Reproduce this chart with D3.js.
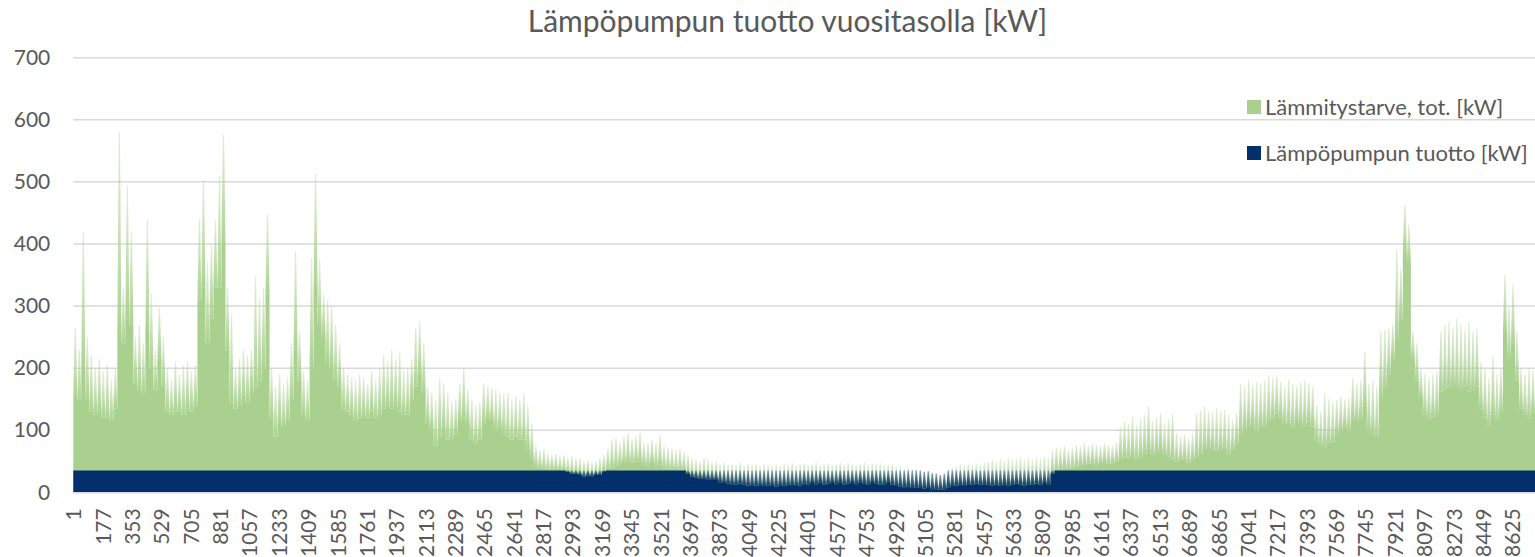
<!DOCTYPE html>
<html lang="fi">
<head>
<meta charset="utf-8">
<script src="https://cdn.jsdelivr.net/npm/d3@7"></script>
<style>
  body { margin: 0; background: #ffffff; }
  svg { display: block; }
  text { font-family: Lato, "Open Sans", "Noto Sans", sans-serif; fill: #595959; }
</style>
</head>
<body>
<svg id="chart" width="1535" height="557"></svg>
<script>
// Hourly heating demand and heat-pump output over one year, summarised per day:
// "Base" = level the hourly values stay above for most of the day, "Peak" = highest hour.
const chartTitle = "Lämpöpumpun tuotto vuositasolla [kW]";
const seriesNames = ["Lämmitystarve, tot. [kW]", "Lämpöpumpun tuotto [kW]"];
const hoursInYear = 8760;
const hoursPerDay = 24;
const yTicks = [0, 100, 200, 300, 400, 500, 600, 700];
const xTickLabels = [1, 177, 353, 529, 705, 881, 1057, 1233, 1409, 1585, 1761, 1937, 2113, 2289, 2465,
  2641, 2817, 2993, 3169, 3345, 3521, 3697, 3873, 4049, 4225, 4401, 4577, 4753, 4929, 5105, 5281,
  5457, 5633, 5809, 5985, 6161, 6337, 6513, 6689, 6865, 7041, 7217, 7393, 7569, 7745, 7921, 8097,
  8273, 8449, 8625];

// Heating demand, daily peak hour [kW]
const demandPeak = [
  265, 230, 418, 250, 221, 200, 215, 195, 205, 180,
  200, 581, 330, 493, 420, 250, 270, 240, 439, 320,
  230, 297, 250, 200, 180, 210, 190, 205, 210, 195,
  205, 440, 503, 370, 400, 439, 510, 576, 330, 286,
  200, 215, 230, 220, 230, 348, 313, 330, 447, 200,
  170, 190, 175, 185, 240, 388, 260, 195, 180, 377,
  514, 374, 320, 310, 300, 270, 240, 200, 190, 185,
  180, 190, 185, 175, 195, 180, 200, 221, 210, 230,
  215, 225, 195, 200, 215, 264, 275, 240, 170, 160,
  150, 184, 175, 160, 146, 150, 175, 200, 165, 150,
  140, 145, 176, 170, 168, 165, 160, 160, 160, 150,
  155, 150, 160, 140, 110, 75, 68, 70, 62, 60,
  62, 58, 60, 55, 58, 55, 55, 50, 52, 48,
  50, 55, 60, 70, 85, 87, 80, 90, 95, 85,
  90, 96, 79, 80, 85, 80, 92, 74, 72, 70,
  68, 70, 65, 60, 55, 52, 50, 55, 52, 48,
  50, 45, 48, 44, 46, 44, 48, 42, 45, 44,
  46, 42, 45, 44, 43, 45, 42, 46, 44, 47,
  43, 45, 47, 44, 46, 48, 43, 45, 47, 44,
  46, 48, 44, 47, 45, 43, 46, 48, 44, 46,
  45, 47, 43, 44, 46, 40, 42, 38, 40, 36,
  37, 35, 33, 34, 31, 30, 28, 30, 36, 40,
  42, 45, 43, 46, 44, 47, 45, 48, 50, 52,
  49, 53, 50, 55, 52, 54, 57, 52, 55, 53,
  56, 54, 57, 55, 68, 72, 70, 74, 68, 72,
  76, 74, 79, 75, 78, 76, 74, 79, 77, 75,
  80, 106, 115, 110, 122, 108, 118, 125, 138, 115,
  120, 127, 110, 118, 127, 95, 90, 92, 88, 95,
  127, 132, 138, 130, 128, 135, 130, 133, 125, 116,
  128, 175, 170, 181, 172, 178, 175, 180, 189, 185,
  189, 178, 170, 181, 175, 172, 178, 180, 176, 170,
  140, 130, 160, 150, 145, 149, 154, 150, 152, 184,
  175, 180, 227, 175, 180, 170, 259, 262, 265, 270,
  391, 360, 463, 430, 259, 240, 200, 190, 185, 190,
  195, 260, 270, 275, 265, 280, 270, 262, 275, 259,
  265, 210, 200, 185, 220, 190, 200, 350, 300, 334,
  260, 200, 190, 200, 195
];

// Heating demand, daily base level [kW]
const demandBase = [
  152, 150, 200, 150, 130, 125, 130, 120, 120, 115,
  135, 260, 240, 280, 270, 175, 165, 160, 260, 200,
  165, 215, 170, 130, 125, 130, 130, 125, 135, 130,
  140, 310, 330, 240, 280, 330, 330, 400, 230, 145,
  135, 140, 150, 145, 160, 170, 180, 200, 320, 120,
  90, 110, 105, 115, 150, 230, 180, 125, 115, 200,
  329, 270, 250, 210, 200, 180, 170, 135, 130, 125,
  115, 120, 125, 120, 130, 120, 125, 135, 140, 135,
  140, 130, 125, 125, 150, 170, 190, 160, 110, 100,
  75, 90, 100, 85, 87, 95, 115, 120, 110, 85,
  80, 85, 110, 120, 115, 100, 105, 95, 90, 85,
  90, 85, 85, 70, 55, 42, 40, 38, 36, 38,
  36, 36, 35, 33, 30, 30, 28, 25, 27, 26,
  28, 28, 34, 38, 40, 42, 45, 47, 50, 48,
  50, 50, 45, 42, 47, 42, 45, 40, 38, 38,
  36, 37, 36, 30, 25, 24, 22, 22, 21, 20,
  20, 16, 15, 14, 13, 12, 14, 12, 11, 10,
  11, 10, 10, 11, 10, 9, 10, 11, 10, 12,
  10, 11, 14, 12, 15, 13, 16, 12, 14, 15,
  13, 16, 12, 14, 15, 13, 16, 14, 12, 15,
  14, 12, 13, 15, 12, 10, 9, 8, 9, 7,
  8, 7, 6, 7, 5, 5, 4, 5, 8, 10,
  11, 12, 10, 13, 12, 14, 12, 13, 12, 11,
  12, 10, 13, 11, 12, 14, 12, 11, 13, 12,
  14, 12, 15, 13, 30, 36, 38, 40, 38, 40,
  42, 45, 44, 46, 48, 45, 47, 50, 46, 48,
  50, 55, 58, 56, 60, 54, 58, 62, 70, 60,
  65, 68, 62, 58, 55, 50, 52, 55, 48, 52,
  58, 62, 68, 74, 70, 66, 68, 72, 63, 70,
  79, 95, 100, 105, 111, 100, 108, 105, 116, 120,
  127, 120, 110, 112, 106, 116, 110, 108, 114, 106,
  84, 78, 74, 80, 82, 95, 100, 106, 100, 119,
  115, 120, 140, 100, 95, 90, 152, 170, 190, 216,
  248, 280, 388, 372, 216, 180, 152, 125, 119, 122,
  125, 162, 165, 170, 173, 168, 165, 170, 162, 165,
  170, 135, 120, 109, 125, 115, 130, 259, 216, 240,
  180, 135, 125, 119, 130
];

// Heat-pump output, daily peak hour [kW]
const pumpPeak = [
  35, 35, 35, 35, 35, 35, 35, 35, 35, 35,
  35, 35, 35, 35, 35, 35, 35, 35, 35, 35,
  35, 35, 35, 35, 35, 35, 35, 35, 35, 35,
  35, 35, 35, 35, 35, 35, 35, 35, 35, 35,
  35, 35, 35, 35, 35, 35, 35, 35, 35, 35,
  35, 35, 35, 35, 35, 35, 35, 35, 35, 35,
  35, 35, 35, 35, 35, 35, 35, 35, 35, 35,
  35, 35, 35, 35, 35, 35, 35, 35, 35, 35,
  35, 35, 35, 35, 35, 35, 35, 35, 35, 35,
  35, 35, 35, 35, 35, 35, 35, 35, 35, 35,
  35, 35, 35, 35, 35, 35, 35, 35, 35, 35,
  35, 35, 35, 35, 35, 35, 35, 35, 35, 35,
  35, 35, 35, 35, 35, 35, 35, 35, 35, 35,
  35, 35, 35, 35, 35, 35, 35, 35, 35, 35,
  35, 35, 35, 35, 35, 35, 35, 35, 35, 35,
  35, 35, 35, 35, 35, 35, 35, 35, 35, 35,
  35, 35, 35, 35, 35, 35, 35, 35, 35, 35,
  35, 35, 35, 35, 35, 35, 35, 35, 35, 35,
  35, 35, 35, 35, 35, 35, 35, 35, 35, 35,
  35, 35, 35, 35, 35, 35, 35, 35, 35, 35,
  35, 35, 35, 35, 35, 35, 35, 35, 35, 35,
  35, 35, 33, 34, 31, 30, 28, 30, 35, 35,
  35, 35, 35, 35, 35, 35, 35, 35, 35, 35,
  35, 35, 35, 35, 35, 35, 35, 35, 35, 35,
  35, 35, 35, 35, 35, 35, 35, 35, 35, 35,
  35, 35, 35, 35, 35, 35, 35, 35, 35, 35,
  35, 35, 35, 35, 35, 35, 35, 35, 35, 35,
  35, 35, 35, 35, 35, 35, 35, 35, 35, 35,
  35, 35, 35, 35, 35, 35, 35, 35, 35, 35,
  35, 35, 35, 35, 35, 35, 35, 35, 35, 35,
  35, 35, 35, 35, 35, 35, 35, 35, 35, 35,
  35, 35, 35, 35, 35, 35, 35, 35, 35, 35,
  35, 35, 35, 35, 35, 35, 35, 35, 35, 35,
  35, 35, 35, 35, 35, 35, 35, 35, 35, 35,
  35, 35, 35, 35, 35, 35, 35, 35, 35, 35,
  35, 35, 35, 35, 35, 35, 35, 35, 35, 35,
  35, 35, 35, 35, 35
];

// Heat-pump output, daily base level [kW]
const pumpBase = [
  35, 35, 35, 35, 35, 35, 35, 35, 35, 35,
  35, 35, 35, 35, 35, 35, 35, 35, 35, 35,
  35, 35, 35, 35, 35, 35, 35, 35, 35, 35,
  35, 35, 35, 35, 35, 35, 35, 35, 35, 35,
  35, 35, 35, 35, 35, 35, 35, 35, 35, 35,
  35, 35, 35, 35, 35, 35, 35, 35, 35, 35,
  35, 35, 35, 35, 35, 35, 35, 35, 35, 35,
  35, 35, 35, 35, 35, 35, 35, 35, 35, 35,
  35, 35, 35, 35, 35, 35, 35, 35, 35, 35,
  35, 35, 35, 35, 35, 35, 35, 35, 35, 35,
  35, 35, 35, 35, 35, 35, 35, 35, 35, 35,
  35, 35, 35, 35, 35, 35, 35, 35, 35, 35,
  35, 35, 35, 33, 30, 30, 28, 25, 27, 26,
  28, 28, 34, 35, 35, 35, 35, 35, 35, 35,
  35, 35, 35, 35, 35, 35, 35, 35, 35, 35,
  35, 35, 35, 30, 25, 24, 22, 22, 21, 20,
  20, 16, 15, 14, 13, 12, 14, 12, 11, 10,
  11, 10, 10, 11, 10, 9, 10, 11, 10, 12,
  10, 11, 14, 12, 15, 13, 16, 12, 14, 15,
  13, 16, 12, 14, 15, 13, 16, 14, 12, 15,
  14, 12, 13, 15, 12, 10, 9, 8, 9, 7,
  8, 7, 6, 7, 5, 5, 4, 5, 8, 10,
  11, 12, 10, 13, 12, 14, 12, 13, 12, 11,
  12, 10, 13, 11, 12, 14, 12, 11, 13, 12,
  14, 12, 15, 13, 30, 35, 35, 35, 35, 35,
  35, 35, 35, 35, 35, 35, 35, 35, 35, 35,
  35, 35, 35, 35, 35, 35, 35, 35, 35, 35,
  35, 35, 35, 35, 35, 35, 35, 35, 35, 35,
  35, 35, 35, 35, 35, 35, 35, 35, 35, 35,
  35, 35, 35, 35, 35, 35, 35, 35, 35, 35,
  35, 35, 35, 35, 35, 35, 35, 35, 35, 35,
  35, 35, 35, 35, 35, 35, 35, 35, 35, 35,
  35, 35, 35, 35, 35, 35, 35, 35, 35, 35,
  35, 35, 35, 35, 35, 35, 35, 35, 35, 35,
  35, 35, 35, 35, 35, 35, 35, 35, 35, 35,
  35, 35, 35, 35, 35, 35, 35, 35, 35, 35,
  35, 35, 35, 35, 35
];

const colors = { demand: "#a9d08e", pump: "#03306b", grid: "#d9d9d9" };

const svg = d3.select("#chart");
const plot = { left: 73.3, right: 1535, top: 57.7, bottom: 492.3 };

const x = d3.scaleLinear().domain([0, hoursInYear]).range([plot.left, plot.right]);
const y = d3.scaleLinear().domain([0, 700]).range([plot.bottom, plot.top]);

// vertical fades used for the spread between a day's base level and its peak hour
const defs = svg.append("defs");
function fade(id, color, opBottom, opTop) {
  const g = defs.append("linearGradient").attr("id", id)
    .attr("x1", 0).attr("y1", 1).attr("x2", 0).attr("y2", 0);
  g.append("stop").attr("offset", 0).attr("stop-color", color).attr("stop-opacity", opBottom);
  g.append("stop").attr("offset", 1).attr("stop-color", color).attr("stop-opacity", opTop);
}
fade("fadeDemand", colors.demand, 0.95, 0.35);
fade("fadePump", colors.pump, 0.9, 0.4);

// title
svg.append("text")
  .attr("x", 787.5).attr("y", 32)
  .attr("text-anchor", "middle")
  .style("font-size", "30px")
  .text(chartTitle);

// horizontal gridlines
svg.append("g").selectAll("line").data(yTicks.filter(t => t > 0)).join("line")
  .attr("x1", plot.left).attr("x2", plot.right)
  .attr("y1", d => y(d)).attr("y2", d => y(d))
  .attr("stroke", colors.grid).attr("stroke-width", 1.5);

// y axis labels
const yAxis = svg.append("g")
  .attr("transform", `translate(${plot.left},0)`)
  .call(d3.axisLeft(y).tickValues(yTicks).tickSize(0).tickPadding(23));
yAxis.select(".domain").remove();
yAxis.selectAll("text").style("font-size", "21px").attr("fill", "#595959");

// step-shaped daily series
function stepData(values) {
  const pts = values.map((v, i) => [i * hoursPerDay, v]);
  pts.push([values.length * hoursPerDay, values[values.length - 1]]);
  return pts;
}
const stepArea = d3.area()
  .x(d => x(d[0])).y0(y(0)).y1(d => y(d[1]))
  .curve(d3.curveStepAfter);

// a day's spread drawn as a spike: full day width at its base, narrowing to the peak hour
function spike(i, base, peak) {
  const x0 = x(i * hoursPerDay), x1 = x((i + 1) * hoursPerDay), xm = (x0 + x1) / 2;
  const p = d3.path();
  p.moveTo(x0, y(base[i]));
  p.lineTo(xm - 0.6, y(peak[i]));
  p.lineTo(xm + 0.6, y(peak[i]));
  p.lineTo(x1, y(base[i]));
  p.closePath();
  return p.toString();
}

const days = d3.range(demandPeak.length);

// heating demand
svg.append("path").datum(stepData(demandBase))
  .attr("d", stepArea).attr("fill", colors.demand);
svg.append("g").selectAll("path").data(days.filter(i => demandPeak[i] > demandBase[i])).join("path")
  .attr("d", i => spike(i, demandBase, demandPeak))
  .attr("fill", "url(#fadeDemand)");

// heat-pump output
svg.append("path").datum(stepData(pumpBase))
  .attr("d", stepArea).attr("fill", colors.pump);
svg.append("g").selectAll("path").data(days.filter(i => pumpPeak[i] > pumpBase[i])).join("path")
  .attr("d", i => spike(i, pumpBase, pumpPeak))
  .attr("fill", "url(#fadePump)");

// category axis (hour numbers), rotated labels
const xAxis = svg.append("g")
  .attr("transform", `translate(0,${plot.bottom})`)
  .call(d3.axisBottom(x)
    .tickValues(xTickLabels.map(h => h - 0.5))
    .tickFormat(v => String(v + 0.5))
    .tickSize(0));
xAxis.select(".domain").attr("stroke", colors.grid).attr("stroke-width", 1.5);
xAxis.selectAll("text")
  .style("font-size", "21px").attr("fill", "#595959")
  .attr("transform", "rotate(-90)")
  .attr("text-anchor", "end")
  .attr("x", -16).attr("y", 0).attr("dy", "0.35em");

// legend
const legend = svg.append("g");
const legendItems = [
  { name: seriesNames[0], color: colors.demand, cy: 107 },
  { name: seriesNames[1], color: colors.pump, cy: 153 }
];
legendItems.forEach(item => {
  legend.append("rect")
    .attr("x", 1247).attr("y", item.cy - 7).attr("width", 14).attr("height", 14)
    .attr("fill", item.color);
  legend.append("text")
    .attr("x", 1265).attr("y", item.cy).attr("dy", "0.35em")
    .style("font-size", "22px")
    .text(item.name);
});
</script>
</body>
</html>
